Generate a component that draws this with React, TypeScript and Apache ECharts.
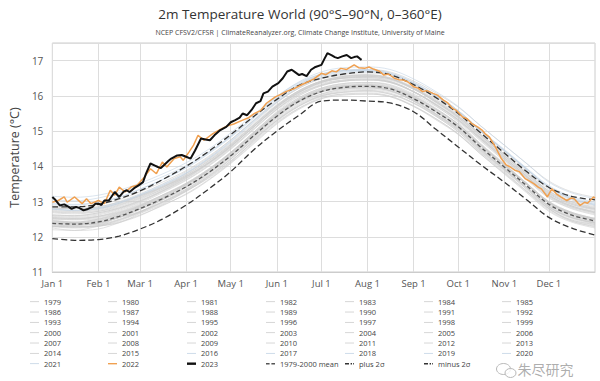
import React, { useEffect, useRef } from 'react';
import * as echarts from 'echarts';

const monthLabels = ['Jan 1', 'Feb 1', 'Mar 1', 'Apr 1', 'May 1', 'Jun 1', 'Jul 1', 'Aug 1', 'Sep 1', 'Oct 1', 'Nov 1', 'Dec 1'];
const monthStartDays = [0, 31, 59, 90, 120, 151, 181, 212, 243, 273, 304, 334];

const anchorDays = [0, 15, 31, 45, 59, 74, 90, 105, 120, 135, 151, 166, 181, 196, 212, 227, 243, 258, 273, 288, 304, 319, 334, 349, 365];

const meanValues = [12.38, 12.36, 12.42, 12.58, 12.80, 13.08, 13.42, 13.82, 14.30, 14.85, 15.42, 15.85, 16.12, 16.24, 16.27, 16.20, 15.92, 15.55, 15.12, 14.55, 13.98, 13.45, 12.92, 12.62, 12.45];
const plus2Sigma = [12.85, 12.85, 12.92, 13.08, 13.30, 13.62, 14.00, 14.42, 14.90, 15.40, 15.90, 16.30, 16.50, 16.62, 16.68, 16.60, 16.32, 15.95, 15.50, 14.95, 14.38, 13.85, 13.40, 13.15, 13.05];
const minus2Sigma = [11.95, 11.90, 11.92, 12.02, 12.22, 12.50, 12.90, 13.35, 13.85, 14.45, 15.00, 15.45, 15.85, 15.88, 15.85, 15.80, 15.55, 15.05, 14.55, 14.05, 13.55, 13.05, 12.55, 12.25, 12.05];

const grayYears = [1979, 1980, 1981, 1982, 1983, 1984, 1985, 1986, 1987, 1988, 1989, 1990, 1991, 1992, 1993, 1994, 1995, 1996, 1997, 1998, 1999, 2000, 2001, 2002, 2003, 2004, 2005, 2006, 2007, 2008, 2009, 2010, 2011, 2012, 2013, 2014, 2015, 2016, 2017, 2018, 2019, 2020, 2021];
const grayYearValues = [
  [12.25, 12.18, 12.30, 12.40, 12.66, 12.92, 13.30, 13.66, 14.12, 14.72, 15.28, 15.70, 15.98, 16.10, 16.12, 16.05, 15.78, 15.42, 14.98, 14.40, 13.85, 13.30, 12.80, 12.45, 12.30],
  [12.30, 12.35, 12.38, 12.55, 12.70, 13.05, 13.35, 13.78, 14.25, 14.80, 15.38, 15.82, 16.05, 16.20, 16.22, 16.15, 15.88, 15.48, 15.08, 14.50, 13.95, 13.40, 12.85, 12.55, 12.40],
  [12.45, 12.40, 12.35, 12.60, 12.85, 13.10, 13.48, 13.85, 14.32, 14.90, 15.45, 15.88, 16.15, 16.28, 16.30, 16.22, 15.95, 15.58, 15.15, 14.58, 14.02, 13.48, 12.95, 12.65, 12.50],
  [12.28, 12.25, 12.30, 12.45, 12.68, 12.95, 13.28, 13.70, 14.15, 14.70, 15.30, 15.72, 16.00, 16.10, 16.15, 16.05, 15.80, 15.42, 14.98, 14.42, 13.88, 13.35, 12.80, 12.48, 12.35],
  [12.55, 12.52, 12.58, 12.70, 12.92, 13.18, 13.50, 13.88, 14.32, 14.88, 15.42, 15.85, 16.12, 16.22, 16.25, 16.15, 15.85, 15.48, 15.05, 14.48, 13.92, 13.40, 12.88, 12.58, 12.42],
  [12.30, 12.28, 12.30, 12.42, 12.62, 12.88, 13.22, 13.62, 14.10, 14.65, 15.22, 15.65, 15.95, 16.05, 16.08, 16.00, 15.72, 15.35, 14.92, 14.35, 13.78, 13.25, 12.72, 12.42, 12.25],
  [12.20, 12.18, 12.22, 12.40, 12.60, 12.90, 13.20, 13.60, 14.08, 14.62, 15.20, 15.62, 15.92, 16.05, 16.05, 15.98, 15.70, 15.32, 14.90, 14.35, 13.80, 13.28, 12.75, 12.45, 12.28],
  [12.30, 12.28, 12.32, 12.48, 12.70, 12.98, 13.32, 13.72, 14.20, 14.75, 15.32, 15.75, 16.02, 16.15, 16.18, 16.12, 15.85, 15.48, 15.05, 14.48, 13.92, 13.40, 12.85, 12.55, 12.40],
  [12.35, 12.32, 12.40, 12.55, 12.78, 13.05, 13.40, 13.80, 14.30, 14.85, 15.45, 15.88, 16.15, 16.28, 16.32, 16.25, 15.98, 15.62, 15.20, 14.62, 14.05, 13.52, 12.98, 12.68, 12.52],
  [12.52, 12.50, 12.55, 12.68, 12.88, 13.15, 13.50, 13.90, 14.38, 14.92, 15.48, 15.90, 16.18, 16.28, 16.30, 16.22, 15.95, 15.55, 15.10, 14.52, 13.95, 13.40, 12.85, 12.55, 12.38],
  [12.30, 12.28, 12.35, 12.50, 12.72, 13.00, 13.35, 13.75, 14.22, 14.78, 15.35, 15.78, 16.05, 16.18, 16.22, 16.15, 15.88, 15.50, 15.08, 14.52, 13.95, 13.42, 12.90, 12.60, 12.42],
  [12.45, 12.42, 12.50, 12.65, 12.88, 13.15, 13.50, 13.90, 14.38, 14.92, 15.50, 15.92, 16.20, 16.32, 16.35, 16.28, 16.00, 15.62, 15.20, 14.62, 14.05, 13.52, 13.00, 12.70, 12.52],
  [12.45, 12.40, 12.48, 12.62, 12.85, 13.12, 13.48, 13.88, 14.35, 14.90, 15.48, 15.90, 16.15, 16.25, 16.25, 16.15, 15.85, 15.45, 15.02, 14.45, 13.90, 13.35, 12.82, 12.52, 12.35],
  [12.40, 12.38, 12.42, 12.55, 12.72, 12.98, 13.30, 13.68, 14.15, 14.68, 15.25, 15.65, 15.92, 16.02, 16.05, 15.98, 15.70, 15.35, 14.92, 14.38, 13.82, 13.30, 12.78, 12.48, 12.32],
  [12.30, 12.28, 12.32, 12.48, 12.70, 12.98, 13.32, 13.72, 14.20, 14.75, 15.30, 15.72, 16.00, 16.12, 16.15, 16.08, 15.80, 15.45, 15.02, 14.45, 13.90, 13.38, 12.85, 12.55, 12.38],
  [12.35, 12.32, 12.38, 12.55, 12.78, 13.05, 13.42, 13.82, 14.30, 14.85, 15.42, 15.85, 16.12, 16.25, 16.28, 16.20, 15.92, 15.55, 15.12, 14.58, 14.00, 13.48, 12.95, 12.65, 12.48],
  [12.50, 12.48, 12.52, 12.68, 12.90, 13.18, 13.52, 13.92, 14.40, 14.95, 15.52, 15.95, 16.22, 16.35, 16.38, 16.30, 16.02, 15.65, 15.20, 14.62, 14.05, 13.50, 12.95, 12.62, 12.45],
  [12.38, 12.35, 12.40, 12.55, 12.78, 13.05, 13.40, 13.80, 14.28, 14.82, 15.40, 15.82, 16.10, 16.22, 16.25, 16.18, 15.92, 15.55, 15.12, 14.58, 14.02, 13.50, 12.98, 12.68, 12.50],
  [12.40, 12.38, 12.45, 12.60, 12.82, 13.10, 13.45, 13.88, 14.38, 14.95, 15.55, 16.00, 16.28, 16.42, 16.45, 16.40, 16.12, 15.78, 15.35, 14.80, 14.25, 13.72, 13.22, 12.92, 12.78],
  [12.82, 12.80, 12.85, 12.98, 13.18, 13.42, 13.75, 14.15, 14.62, 15.15, 15.72, 16.12, 16.40, 16.50, 16.52, 16.42, 16.12, 15.72, 15.25, 14.65, 14.08, 13.52, 12.98, 12.65, 12.48],
  [12.42, 12.40, 12.45, 12.58, 12.80, 13.08, 13.42, 13.82, 14.30, 14.85, 15.42, 15.85, 16.12, 16.25, 16.28, 16.22, 15.95, 15.58, 15.15, 14.60, 14.02, 13.50, 12.98, 12.68, 12.50],
  [12.40, 12.38, 12.45, 12.62, 12.85, 13.12, 13.48, 13.88, 14.35, 14.90, 15.48, 15.90, 16.18, 16.30, 16.32, 16.25, 15.98, 15.62, 15.18, 14.62, 14.05, 13.52, 13.00, 12.70, 12.52],
  [12.52, 12.50, 12.58, 12.75, 12.98, 13.28, 13.62, 14.02, 14.50, 15.05, 15.62, 16.05, 16.32, 16.45, 16.48, 16.40, 16.12, 15.75, 15.32, 14.78, 14.20, 13.68, 13.15, 12.85, 12.68],
  [12.68, 12.65, 12.72, 12.88, 13.10, 13.38, 13.72, 14.10, 14.58, 15.10, 15.68, 16.10, 16.38, 16.50, 16.52, 16.45, 16.18, 15.82, 15.40, 14.85, 14.28, 13.75, 13.22, 12.92, 12.75],
  [12.70, 12.68, 12.72, 12.85, 13.08, 13.35, 13.70, 14.08, 14.55, 15.10, 15.68, 16.10, 16.38, 16.50, 16.55, 16.48, 16.20, 15.82, 15.38, 14.82, 14.25, 13.72, 13.18, 12.88, 12.72],
  [12.62, 12.60, 12.68, 12.82, 13.02, 13.30, 13.65, 14.05, 14.52, 15.05, 15.62, 16.05, 16.30, 16.42, 16.45, 16.38, 16.10, 15.75, 15.32, 14.78, 14.22, 13.70, 13.18, 12.88, 12.70],
  [12.72, 12.70, 12.75, 12.90, 13.12, 13.40, 13.75, 14.15, 14.62, 15.15, 15.72, 16.15, 16.42, 16.55, 16.58, 16.50, 16.22, 15.85, 15.42, 14.88, 14.30, 13.78, 13.25, 12.95, 12.78],
  [12.60, 12.58, 12.65, 12.80, 13.02, 13.32, 13.68, 14.08, 14.55, 15.10, 15.68, 16.10, 16.38, 16.52, 16.55, 16.48, 16.20, 15.85, 15.42, 14.88, 14.30, 13.78, 13.25, 12.95, 12.80],
  [12.82, 12.80, 12.82, 12.95, 13.15, 13.40, 13.72, 14.10, 14.58, 15.10, 15.65, 16.08, 16.35, 16.45, 16.48, 16.40, 16.12, 15.75, 15.30, 14.75, 14.18, 13.65, 13.12, 12.82, 12.65],
  [12.48, 12.42, 12.50, 12.65, 12.88, 13.18, 13.52, 13.92, 14.40, 14.95, 15.52, 15.95, 16.22, 16.35, 16.38, 16.32, 16.05, 15.70, 15.28, 14.72, 14.15, 13.62, 13.10, 12.80, 12.62],
  [12.62, 12.60, 12.68, 12.82, 13.05, 13.35, 13.70, 14.12, 14.60, 15.15, 15.72, 16.15, 16.42, 16.55, 16.60, 16.52, 16.25, 15.90, 15.48, 14.92, 14.35, 13.82, 13.30, 13.00, 12.85],
  [12.88, 12.85, 12.92, 13.05, 13.28, 13.55, 13.88, 14.28, 14.75, 15.28, 15.82, 16.22, 16.48, 16.58, 16.60, 16.50, 16.20, 15.82, 15.38, 14.82, 14.25, 13.72, 13.18, 12.88, 12.70],
  [12.55, 12.52, 12.58, 12.72, 12.95, 13.25, 13.60, 14.00, 14.48, 15.02, 15.60, 16.02, 16.30, 16.42, 16.45, 16.38, 16.12, 15.75, 15.32, 14.78, 14.20, 13.68, 13.15, 12.85, 12.68],
  [12.58, 12.55, 12.62, 12.78, 13.00, 13.30, 13.66, 14.08, 14.56, 15.12, 15.70, 16.12, 16.40, 16.52, 16.55, 16.48, 16.22, 15.85, 15.42, 14.88, 14.32, 13.80, 13.28, 12.98, 12.80],
  [12.75, 12.72, 12.78, 12.92, 13.15, 13.42, 13.78, 14.18, 14.65, 15.18, 15.75, 16.15, 16.42, 16.55, 16.58, 16.50, 16.22, 15.88, 15.45, 14.90, 14.35, 13.82, 13.30, 13.00, 12.82],
  [12.78, 12.75, 12.80, 12.95, 13.18, 13.45, 13.80, 14.20, 14.68, 15.22, 15.80, 16.22, 16.50, 16.62, 16.65, 16.58, 16.30, 15.95, 15.52, 14.98, 14.42, 13.88, 13.35, 13.05, 12.88],
  [12.82, 12.80, 12.85, 13.00, 13.22, 13.50, 13.85, 14.25, 14.75, 15.30, 15.88, 16.32, 16.60, 16.72, 16.75, 16.68, 16.42, 16.08, 15.68, 15.15, 14.60, 14.08, 13.58, 13.28, 13.12],
  [13.15, 13.12, 13.18, 13.32, 13.52, 13.78, 14.10, 14.48, 14.95, 15.45, 15.98, 16.38, 16.62, 16.72, 16.75, 16.65, 16.38, 16.02, 15.58, 15.02, 14.45, 13.92, 13.40, 13.08, 12.92],
  [12.95, 12.92, 12.98, 13.12, 13.35, 13.62, 13.95, 14.35, 14.82, 15.35, 15.92, 16.32, 16.58, 16.70, 16.72, 16.65, 16.38, 16.02, 15.58, 15.02, 14.45, 13.92, 13.40, 13.10, 12.92],
  [12.78, 12.75, 12.82, 12.98, 13.20, 13.48, 13.82, 14.22, 14.70, 15.25, 15.82, 16.25, 16.52, 16.65, 16.68, 16.60, 16.32, 15.98, 15.55, 15.00, 14.45, 13.92, 13.42, 13.12, 12.95],
  [12.92, 12.90, 12.98, 13.12, 13.35, 13.62, 13.98, 14.38, 14.85, 15.40, 15.98, 16.40, 16.68, 16.80, 16.82, 16.75, 16.48, 16.12, 15.70, 15.15, 14.60, 14.08, 13.55, 13.25, 13.08],
  [13.05, 13.02, 13.10, 13.25, 13.45, 13.70, 14.02, 14.40, 14.85, 15.38, 15.95, 16.35, 16.62, 16.72, 16.72, 16.62, 16.35, 15.98, 15.55, 15.00, 14.45, 13.92, 13.40, 13.08, 12.90],
  [12.80, 12.75, 12.80, 12.95, 13.18, 13.45, 13.80, 14.22, 14.72, 15.28, 15.85, 16.28, 16.55, 16.68, 16.70, 16.62, 16.35, 16.00, 15.58, 15.02, 14.48, 13.95, 13.45, 13.15, 12.98],
];

const days2022 = [0, 4, 8, 10, 15, 20, 23, 26, 31, 35, 39, 42, 45, 49, 53, 57, 62, 66, 70, 74, 77, 82, 86, 88, 92, 95, 98, 102, 108, 113, 118, 122, 128, 132, 136, 140, 144, 150, 154, 157, 163, 167, 172, 176, 181, 184, 188, 191, 194, 198, 203, 206, 210, 213, 216, 220, 223, 226, 230, 233, 236, 239, 243, 246, 249, 252, 256, 259, 263, 266, 269, 272, 276, 279, 282, 286, 289, 291, 294, 298, 302, 305, 308, 311, 314, 318, 321, 324, 327, 329, 333, 336, 339, 342, 346, 349, 351, 355, 358, 360, 364, 365];
const temps2022 = [12.98, 13.03, 13.13, 12.98, 13.13, 12.94, 13.08, 12.94, 13.03, 12.94, 13.32, 13.18, 13.41, 13.27, 13.41, 13.46, 13.70, 13.93, 13.79, 14.12, 13.98, 14.22, 14.27, 14.17, 14.41, 14.60, 14.88, 14.74, 14.93, 15.05, 15.15, 15.20, 15.31, 15.38, 15.50, 15.58, 15.79, 15.97, 16.05, 16.12, 16.21, 16.30, 16.40, 16.48, 16.64, 16.60, 16.71, 16.68, 16.78, 16.75, 16.88, 16.80, 16.78, 16.82, 16.76, 16.70, 16.59, 16.62, 16.50, 16.46, 16.45, 16.40, 16.26, 16.22, 16.12, 16.15, 16.07, 16.02, 15.88, 15.80, 15.65, 15.58, 15.40, 15.35, 15.22, 15.12, 15.03, 14.93, 14.83, 14.55, 14.22, 14.05, 13.98, 13.89, 13.85, 13.65, 13.58, 13.50, 13.40, 13.36, 13.13, 13.36, 13.22, 13.13, 13.03, 13.10, 13.08, 12.89, 12.98, 12.95, 13.13, 13.10];

const days2023 = [0, 2, 5, 8, 11, 13, 16, 18, 21, 24, 27, 29, 31, 33, 35, 38, 42, 45, 48, 50, 52, 55, 58, 61, 63, 66, 69, 71, 73, 75, 78, 80, 84, 87, 90, 93, 96, 100, 103, 106, 109, 113, 117, 120, 123, 126, 128, 131, 134, 137, 140, 142, 145, 148, 152, 155, 158, 161, 163, 166, 168, 171, 174, 177, 181, 183, 185, 188, 190, 192, 195, 198, 201, 203, 205, 207, 208];
const temps2023 = [13.13, 13.05, 12.89, 12.92, 12.85, 12.79, 12.85, 12.82, 12.75, 12.79, 12.85, 12.94, 12.94, 12.90, 13.03, 13.03, 13.27, 13.13, 13.28, 13.32, 13.27, 13.38, 13.46, 13.55, 13.79, 14.08, 14.02, 13.98, 13.95, 14.03, 14.15, 14.22, 14.31, 14.32, 14.27, 14.22, 14.45, 14.79, 14.76, 14.74, 14.88, 15.03, 15.12, 15.25, 15.31, 15.38, 15.50, 15.45, 15.60, 15.79, 15.85, 16.07, 16.12, 16.26, 16.36, 16.50, 16.69, 16.74, 16.68, 16.59, 16.62, 16.56, 16.74, 16.82, 16.88, 17.05, 17.21, 17.15, 17.10, 17.07, 17.12, 17.16, 17.07, 17.10, 17.12, 17.05, 17.02];

const MEAN_NAME = '1979-2000 mean';
const PLUS_NAME = 'plus 2σ';
const MINUS_NAME = 'minus 2σ';

const FONT = '"Open Sans", "Noto Sans", sans-serif';

const ICON_THIN = 'path://M0,0h9v0.8h-9z';
const ICON_THICK = 'path://M0,0h9v2.4h-9z';
const ICON_MID = 'path://M0,0h9v1.4h-9z';
const ICON_DASH = 'path://M0,0h3.6v1.4h-3.6z M5.4,0h3.6v1.4h-3.6z';
const ICON_DASHDOT = 'path://M0,0h4v1.4h-4z M5.6,0h1.4v1.4h-1.4z M8.2,0h0.8v1.4h-0.8z';

function buildOption() {
  const dayCategories = Array.from({ length: 366 }, (_, i) => String(i));
  const isMonthStart = (idx: number) => monthStartDays.indexOf(idx) >= 0;

  const graySeries = grayYears.map((yr, i) => {
    const color = yr >= 2016 ? '#c2d3e4' : '#cccccc';
    return {
      name: String(yr),
      type: 'line',
      data: anchorDays.map((d, k) => [d, grayYearValues[i][k]]),
      symbol: 'none',
      smooth: 0.35,
      silent: true,
      z: 2,
      lineStyle: { color, width: 0.6 },
      itemStyle: { color },
    };
  });

  const refSeries = [
    { name: MEAN_NAME, values: meanValues, color: '#555555', dash: [4, 2.5] },
    { name: PLUS_NAME, values: plus2Sigma, color: '#333333', dash: [6, 3] },
    { name: MINUS_NAME, values: minus2Sigma, color: '#333333', dash: [6, 3] },
  ].map((s) => ({
    name: s.name,
    type: 'line',
    data: anchorDays.map((d, k) => [d, s.values[k]]),
    symbol: 'none',
    smooth: 0.35,
    silent: true,
    z: 4,
    lineStyle: { color: s.color, width: 1.3, type: s.dash },
    itemStyle: { color: s.color },
  }));

  const s2022 = {
    name: '2022',
    type: 'line',
    data: days2022.map((d, k) => [d, temps2022[k]]),
    symbol: 'none',
    silent: true,
    z: 5,
    lineStyle: { color: '#f0a050', width: 1.5 },
    itemStyle: { color: '#f0a050' },
  };
  const s2023 = {
    name: '2023',
    type: 'line',
    data: days2023.map((d, k) => [d, temps2023[k]]),
    symbol: 'none',
    silent: true,
    z: 6,
    lineStyle: { color: '#111111', width: 2 },
    itemStyle: { color: '#111111' },
  };

  const legendNames = [...grayYears.map(String), '2022', '2023', MEAN_NAME, PLUS_NAME, MINUS_NAME];
  const iconFor = (name: string) => {
    if (name === '2023') return ICON_THICK;
    if (name === '2022') return ICON_MID;
    if (name === MEAN_NAME) return ICON_DASH;
    if (name === PLUS_NAME || name === MINUS_NAME) return ICON_DASHDOT;
    return ICON_THIN;
  };
  const colLefts = [30, 108, 187, 266, 345, 424, 502];
  const legends = colLefts.map((left, c) => {
    const items: any[] = [];
    for (let r = 0; r < 7; r++) {
      const idx = r * 7 + c;
      if (idx < legendNames.length) items.push({ name: legendNames[idx], icon: iconFor(legendNames[idx]) });
    }
    return {
      orient: 'vertical',
      left,
      top: 296.7,
      padding: 0,
      itemWidth: 9,
      itemHeight: 10,
      itemGap: 0.33,
      selectedMode: false,
      symbolKeepAspect: true,
      data: items,
      textStyle: { fontSize: 7.5, color: '#444', fontFamily: FONT, lineHeight: 10 },
    };
  });

  return {
    animation: false,
    backgroundColor: '#ffffff',
    title: {
      text: '2m Temperature World (90°S–90°N, 0–360°E)',
      subtext: 'NCEP CFSV2/CFSR | ClimateReanalyzer.org, Climate Change Institute, University of Maine',
      left: 'center',
      top: 2,
      itemGap: 8,
      textStyle: { fontSize: 13.5, fontWeight: 'normal', color: '#333', fontFamily: FONT },
      subtextStyle: { fontSize: 7, color: '#444', fontFamily: FONT },
    },
    legend: legends,
    grid: {
      left: 43,
      right: 5,
      top: 43,
      bottom: 109,
      show: true,
      borderColor: '#cccccc',
      borderWidth: 1,
      containLabel: false,
    },
    xAxis: {
      type: 'category',
      data: dayCategories,
      boundaryGap: false,
      axisLine: { show: true, lineStyle: { color: '#cccccc' } },
      axisTick: { show: false },
      axisLabel: {
        interval: (idx: number) => isMonthStart(idx),
        formatter: (_v: string, idx: number) => {
          const m = monthStartDays.indexOf(idx);
          return m >= 0 ? monthLabels[m] : '';
        },
        fontSize: 9.5,
        color: '#555',
        margin: 6,
        fontFamily: FONT,
      },
      splitLine: {
        show: true,
        interval: (idx: number) => isMonthStart(idx),
        lineStyle: { color: '#dddddd', width: 1 },
      },
    },
    yAxis: {
      type: 'value',
      min: 11,
      max: 17.5,
      interval: 1,
      name: 'Temperature (°C)',
      nameLocation: 'middle',
      nameGap: 27,
      nameTextStyle: { fontSize: 12.5, color: '#444', fontFamily: FONT },
      axisLine: { show: false },
      axisTick: { show: false },
      axisLabel: {
        fontSize: 10,
        color: '#555',
        margin: 9,
        fontFamily: FONT,
        showMaxLabel: false,
        formatter: (v: number) => (Number.isInteger(v) ? String(v) : ''),
      },
      splitLine: { show: true, lineStyle: { color: '#dddddd', width: 1 } },
    },
    graphic: [
      {
        type: 'group',
        left: 496,
        top: 362,
        z: 100,
        children: [
          { type: 'ellipse', shape: { cx: 7, cy: 7, rx: 7, ry: 5.5 }, style: { fill: 'rgba(255,255,255,0.6)', stroke: '#b8b8b8', lineWidth: 1 } },
          { type: 'ellipse', shape: { cx: 14, cy: 11, rx: 5.5, ry: 4.5 }, style: { fill: 'rgba(255,255,255,0.8)', stroke: '#b8b8b8', lineWidth: 1 } },
          { type: 'text', x: 21, y: 0, style: { text: '朱尽研究', fontSize: 14, fill: 'rgba(160,160,160,0.85)', fontFamily: '"Noto Sans CJK SC", sans-serif' } },
        ],
      },
    ],
    series: [...graySeries, ...refSeries, s2022, s2023],
  };
}

export default function App() {
  const ref = useRef<HTMLDivElement>(null);
  useEffect(() => {
    if (!ref.current) return;
    const chart = echarts.init(ref.current, null, { renderer: 'svg' });
    chart.setOption(buildOption() as any);
    return () => {
      chart.dispose();
    };
  }, []);
  return (
    <div
      ref={ref}
      style={{ position: 'fixed', left: 0, top: 0, width: 600, height: 381, background: '#fff' }}
    />
  );
}
